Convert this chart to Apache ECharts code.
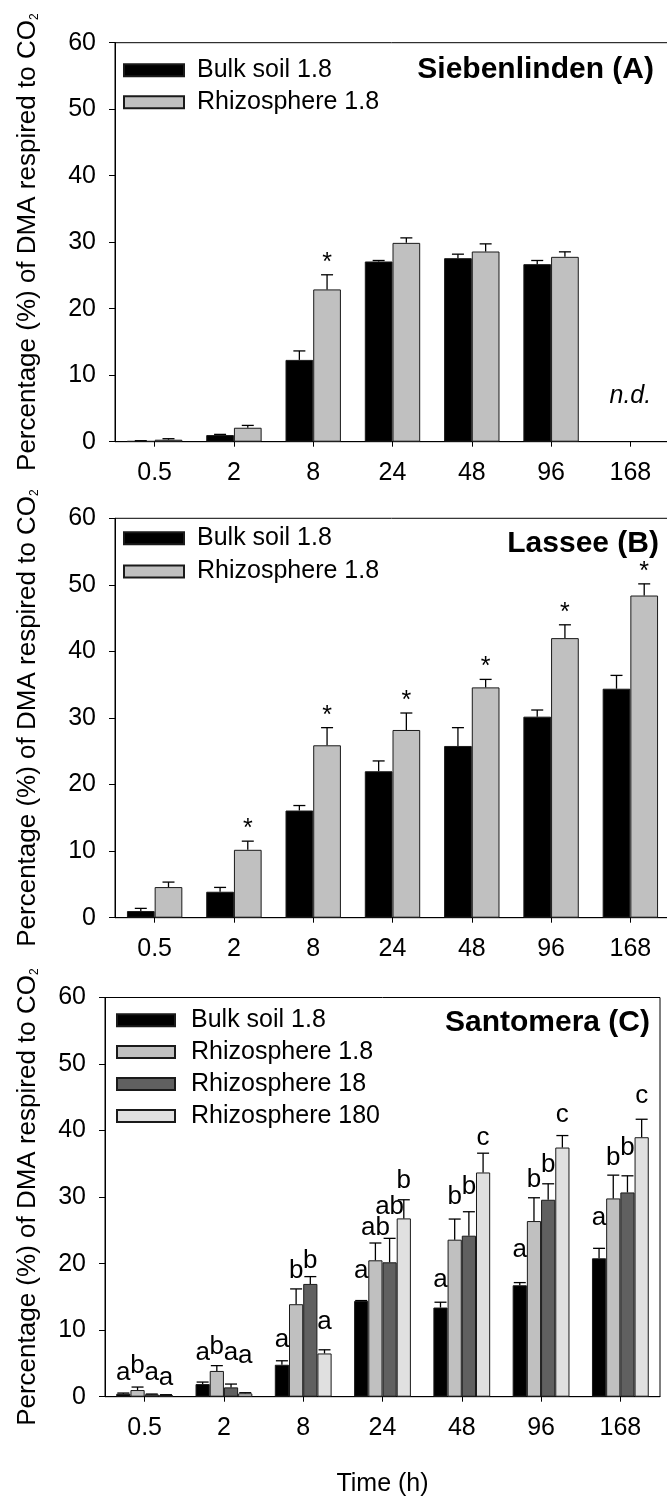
<!DOCTYPE html>
<html><head><meta charset="utf-8">
<script src="https://cdn.jsdelivr.net/npm/echarts@6/dist/echarts.min.js"></script>
<style>html,body{margin:0;padding:0;background:#fff}#c{width:667px;height:1496px}</style>
</head><body><div id="c"></div>
<script>
const FONT = '"Liberation Sans", Arial, Helvetica, sans-serif';

// ---- data ----
const categories = ['0.5', '2', '8', '24', '48', '96', '168'];
const yMin = 0, yMax = 60, yStep = 10;

// Panel A: Siebenlinden
const aBulk = [0.1, 1.0, 12.3, 27.1, 27.6, 26.7, null];
const aBulkErr = [0.05, 0.1, 1.35, 0.15, 0.6, 0.55, null];
const aRhizo = [0.3, 2.1, 22.9, 29.9, 28.6, 27.8, null];
const aRhizoErr = [0.15, 0.35, 2.2, 0.75, 1.15, 0.75, null];
const aSig = [0, 0, 1, 0, 0, 0, 0];
const aNdLevel = 6.8;

// Panel B: Lassee
const bBulk = [1.0, 3.9, 16.1, 22.0, 25.8, 30.2, 34.4];
const bBulkErr = [0.4, 0.65, 0.75, 1.55, 2.75, 1.0, 2.0];
const bRhizo = [4.6, 10.2, 25.9, 28.2, 34.6, 42.0, 48.4];
const bRhizoErr = [0.75, 1.3, 2.65, 2.55, 1.2, 2.0, 1.75];
const bSig = [0, 1, 1, 1, 1, 1, 1];

// Panel C: Santomera
const cBulk = [0.45, 1.9, 4.8, 14.4, 13.4, 16.75, 20.8];
const cBulkErr = [0.1, 0.3, 0.6, 0.05, 0.8, 0.4, 1.5];
const cR1 = [1.0, 3.87, 13.9, 20.5, 23.6, 26.4, 29.8];
const cR1Err = [0.45, 0.8, 2.3, 2.6, 3.1, 3.5, 3.5];
const cR18 = [0.35, 1.4, 16.95, 20.2, 24.2, 29.6, 30.7];
const cR18Err = [0.05, 0.5, 1.1, 3.6, 3.6, 2.4, 2.5];
const cR180 = [0.25, 0.5, 6.5, 26.8, 33.7, 37.45, 39.0];
const cR180Err = [0.05, 0.1, 0.55, 2.8, 2.9, 1.8, 2.7];

const cBulkLetters = ['a', 'a', 'a', 'a', 'a', 'a', 'a'];
const cR1Letters = ['b', 'b', 'b', 'ab', 'b', 'b', 'b'];
const cR18Letters = ['a', 'a', 'b', 'ab', 'b', 'b', 'b'];
const cR180Letters = ['a', 'a', 'a', 'b', 'c', 'c', 'c'];
// letter baseline levels (axis units)
const cBulkLetterY = [2.26, 5.26, 7.27, 17.55, 16.3, 20.8, 25.6];
const cR1LetterY = [3.4, 6.17, 17.65, 24.06, 28.8, 31.3, 34.6];
const cR18LetterY = [2.26, 5.26, 19.15, 27.3, 30.3, 33.6, 36.1];
const cR180LetterY = [1.5, 4.77, 9.9, 31.1, 37.6, 41.1, 43.9];

const names = ['Bulk soil 1.8', 'Rhizosphere 1.8', 'Rhizosphere 18', 'Rhizosphere 180'];
const colors = ['#000000', '#c0c0c0', '#606060', '#e0e0e0'];

// ---- styles ----
const BAR_AB = 27.7, BAR_C = 14.2, CAP = 12;

const grids = [
  { left: 115, top: 42.7, width: 555, height: 399 },
  { left: 115, top: 518.3, width: 555, height: 399.4 },
  { left: 105, top: 997.5, width: 555, height: 399.2 }
].map(g => Object.assign(g, { show: true, borderColor: '#000', borderWidth: 1, backgroundColor: 'transparent', containLabel: false, outerBoundsMode: 'none' }));

const axisLine = { show: true, lineStyle: { color: '#000', width: 1 } };

const xAxes = [0, 1, 2].map(i => ({
  type: 'category', gridIndex: i, data: categories, boundaryGap: true,
  axisLine, axisTick: { show: true, alignWithLabel: true, interval: 0, length: 5, lineStyle: { color: '#000', width: 1 } },
  axisLabel: { interval: 0, fontSize: 25, color: '#000', fontFamily: FONT, margin: 19 },
  splitLine: { show: false },
  name: i === 2 ? 'Time (h)' : '', nameLocation: 'middle', nameGap: 75, nameMoveOverlap: false,
  nameTextStyle: { fontSize: 25, color: '#000', fontFamily: FONT }
}));

const yName = '{m|Percentage (%) of DMA respired to CO}{s|2}';
const yAxes = [0, 1, 2].map(i => ({
  type: 'value', gridIndex: i, min: yMin, max: yMax, interval: yStep,
  axisLine, axisTick: { show: true, length: 6, lineStyle: { color: '#000', width: 1 } },
  axisLabel: { fontSize: 25, color: '#000', fontFamily: FONT, margin: 19 },
  splitLine: { show: false },
  name: yName, nameLocation: 'middle', nameRotate: 90, nameGap: i === 2 ? 64 : 74, nameMoveOverlap: false,
  nameTextStyle: {
    color: '#000', fontFamily: FONT,
    rich: {
      m: { fontSize: 26, lineHeight: 26, verticalAlign: 'top', fontFamily: FONT, color: '#000' },
      s: { fontSize: 12, lineHeight: 12, padding: [19, 0, 0, 0], verticalAlign: 'bottom', fontFamily: FONT, color: '#000' }
    }
  }
}));

function barSeries(pi, k, vals, barW) {
  return {
    type: 'bar', name: names[k], xAxisIndex: pi, yAxisIndex: pi, data: vals,
    barWidth: barW, barGap: '0%', silent: true,
    itemStyle: { color: colors[k], borderColor: '#1a1a1a', borderWidth: 1 }
  };
}

function errSeries(pi, vals, errs, k, n, barW, extra) {
  return {
    type: 'custom', name: 'err' + pi + '_' + k, xAxisIndex: pi, yAxisIndex: pi, z: 5, silent: true, clip: false,
    data: vals.map((v, i) => [i, v == null ? NaN : v, errs[i] == null ? 0 : errs[i]]),
    encode: { x: 0, y: 1 },
    renderItem(params, api) {
      const i = api.value(0), v = api.value(1), e = api.value(2);
      if (v == null || isNaN(v)) return null;
      const p0 = api.coord([i, v]);
      const p1 = api.coord([i, v + e]);
      const x = p0[0] + (k - (n - 1) / 2) * barW;
      const st = { stroke: '#000', lineWidth: 1.3 };
      const ch = [
        { type: 'line', shape: { x1: x, y1: p0[1], x2: x, y2: p1[1] }, style: st },
        { type: 'line', shape: { x1: x - CAP / 2, y1: p1[1], x2: x + CAP / 2, y2: p1[1] }, style: st }
      ];
      if (extra) { const t = extra(i, x, p1[1], api); if (t) ch.push(t); }
      return { type: 'group', children: ch };
    }
  };
}

function txt(x, y, s, extraStyle) {
  return { type: 'text', x, y, style: Object.assign({ text: s, fill: '#000', fontSize: 25, fontFamily: FONT, align: 'center', verticalAlign: 'middle' }, extraStyle || {}) };
}
const star = sig => (i, x, topY) => sig[i] ? txt(x, topY - 12, '*') : null;
const letter = (letters, levels) => (i, x, topY, api) => txt(x, api.coord([i, levels[i]])[1] - 8.7, letters[i], { fontSize: 26 });

const series = [
  barSeries(0, 0, aBulk, BAR_AB), barSeries(0, 1, aRhizo, BAR_AB),
  errSeries(0, aBulk, aBulkErr, 0, 2, BAR_AB), errSeries(0, aRhizo, aRhizoErr, 1, 2, BAR_AB, star(aSig)),
  {
    type: 'custom', name: 'nd', xAxisIndex: 0, yAxisIndex: 0, z: 5, silent: true,
    data: [[6, aNdLevel]], encode: { x: 0, y: 1 },
    renderItem(params, api) { const p = api.coord([api.value(0), api.value(1)]); return txt(p[0], p[1], 'n.d.', { fontStyle: 'italic' }); }
  },
  barSeries(1, 0, bBulk, BAR_AB), barSeries(1, 1, bRhizo, BAR_AB),
  errSeries(1, bBulk, bBulkErr, 0, 2, BAR_AB), errSeries(1, bRhizo, bRhizoErr, 1, 2, BAR_AB, star(bSig)),
  barSeries(2, 0, cBulk, BAR_C), barSeries(2, 1, cR1, BAR_C), barSeries(2, 2, cR18, BAR_C), barSeries(2, 3, cR180, BAR_C),
  errSeries(2, cBulk, cBulkErr, 0, 4, BAR_C, letter(cBulkLetters, cBulkLetterY)),
  errSeries(2, cR1, cR1Err, 1, 4, BAR_C, letter(cR1Letters, cR1LetterY)),
  errSeries(2, cR18, cR18Err, 2, 4, BAR_C, letter(cR18Letters, cR18LetterY)),
  errSeries(2, cR180, cR180Err, 3, 4, BAR_C, letter(cR180Letters, cR180LetterY))
];

function legend(left, top, gap, itemW, textPad, data) {
  return {
    left, top, orient: 'vertical', padding: 0, itemGap: gap, itemWidth: itemW, itemHeight: 12, icon: 'rect',
    selectedMode: false, data,
    textStyle: { fontSize: 25, lineHeight: 25, color: '#000', fontFamily: FONT, padding: [0, 0, 0, textPad] }
  };
}

const titleStyle = { fontSize: 30, fontWeight: 'bold', color: '#000', fontFamily: FONT };
const option = {
  animation: false,
  backgroundColor: '#fff',
  grid: grids, xAxis: xAxes, yAxis: yAxes, series,
  title: [
    { text: 'Siebenlinden (A)', right: 13, top: 54.5, padding: 0, textStyle: titleStyle },
    { text: 'Lassee (B)', right: 8, top: 528.5, padding: 0, textStyle: titleStyle },
    { text: 'Santomera (C)', right: 17, top: 1007.5, padding: 0, textStyle: titleStyle }
  ],
  legend: [
    legend(123, 57.7, 7, 60, 8, names.slice(0, 2)),
    legend(123, 525.7, 8.3, 60, 8, names.slice(0, 2)),
    legend(116, 1007.7, 6.9, 58, 11, names.slice(0, 4))
  ]
};
const chart = echarts.init(document.getElementById('c'));
chart.setOption(option);
</script>
</body></html>
